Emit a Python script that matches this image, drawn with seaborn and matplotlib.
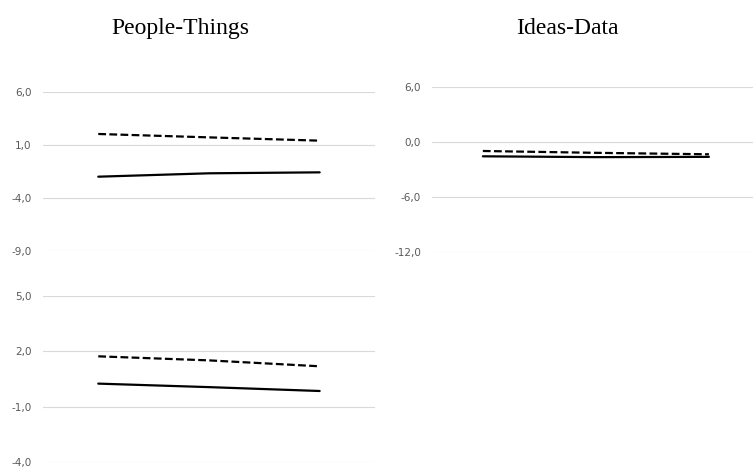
import pandas as pd
import numpy as np
import seaborn as sns
import matplotlib.pyplot as plt
from matplotlib.ticker import FuncFormatter

# Datos (3 puntos por linea)
puntos = ["Bajo", "Medio", "Alto"]

pt_arriba_discontinua = [2.04, 1.72, 1.41]
pt_arriba_continua = [-1.99, -1.67, -1.58]

pt_abajo_discontinua = [1.73, 1.51, 1.19]
pt_abajo_continua = [0.25, 0.06, -0.15]

id_discontinua = [-0.98, -1.18, -1.34]
id_continua = [-1.56, -1.65, -1.62]

# Ticks de cada panel
ticks_pt_arriba = [6.0, 1.0, -4.0, -9.0]
ticks_pt_abajo = [5.0, 2.0, -1.0, -4.0]
ticks_id = [6.0, 0.0, -6.0, -12.0]


def armar_df(discontinua, continua):
    return pd.DataFrame({
        "x": list(range(len(puntos))) * 2,
        "valor": discontinua + continua,
        "serie": ["discontinua"] * len(puntos) + ["continua"] * len(puntos),
    })


sns.set_theme(style="white")
plt.rcParams["font.family"] = ["DejaVu Sans"]

fig = plt.figure(figsize=(7.53, 4.68), dpi=100)
ax1 = fig.add_axes([0.057, 0.4637, 0.441, 0.3397])
ax2 = fig.add_axes([0.057, 0.0128, 0.441, 0.3547])
ax3 = fig.add_axes([0.5737, 0.4615, 0.4263, 0.3526])

coma = FuncFormatter(lambda v, p: f"{v:.1f}".replace(".", ","))

paneles = [
    (ax1, pt_arriba_discontinua, pt_arriba_continua, ticks_pt_arriba, (-0.5, 2.5)),
    (ax2, pt_abajo_discontinua, pt_abajo_continua, ticks_pt_abajo, (-0.5, 2.5)),
    (ax3, id_discontinua, id_continua, ticks_id, (-0.45, 2.39)),
]

for ax, disc, cont, ticks, xl in paneles:
    df = armar_df(disc, cont)
    sns.lineplot(data=df, x="x", y="valor", style="serie",
                 style_order=["discontinua", "continua"],
                 dashes={"discontinua": (3.5, 1.5), "continua": ""},
                 color="black", linewidth=1.6, legend=False, ax=ax)
    ax.set_xlim(*xl)
    ax.set_ylim(min(ticks), max(ticks))
    ax.set_yticks(ticks)
    ax.yaxis.set_major_formatter(coma)
    ax.set_xticks([])
    ax.set_xlabel("")
    ax.set_ylabel("")
    ax.grid(axis="y", color="#d9d9d9", linewidth=0.8)
    ax.set_axisbelow(True)
    for s in ax.spines.values():
        s.set_visible(False)
    ax.tick_params(axis="y", length=0, pad=8, labelsize=7.5, labelcolor="#595959")

fig.text(0.239, 0.94, "People-Things", ha="center", va="center",
         fontsize=17, family="Liberation Serif", color="black")
fig.text(0.753, 0.94, "Ideas-Data", ha="center", va="center",
         fontsize=17, family="Liberation Serif", color="black")

fig.savefig("out.png", dpi=100)
